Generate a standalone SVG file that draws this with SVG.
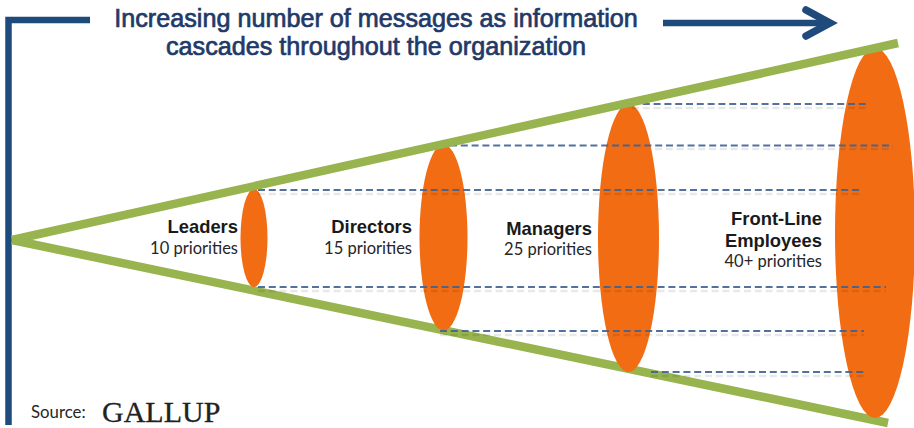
<svg xmlns="http://www.w3.org/2000/svg" width="914" height="428" viewBox="0 0 914 428">
<style>
.blue{fill:none;stroke:#1f4a7c;stroke-width:6.5}
.green{stroke:#98b44f;stroke-width:8.5;fill:none}
.ell{fill:#f26c13}
.dash{stroke:#3f6392;stroke-width:2.200;stroke-dasharray:7 3.8;fill:none;opacity:.9}
.shadow{stroke:#000;stroke-opacity:.09;stroke-width:2.500;stroke-dasharray:7 3.8;fill:none}
.title{font:25.2px "Liberation Sans",Arial,sans-serif;fill:#1f3a68;stroke:#1f3a68;stroke-width:.7;text-anchor:middle}
.head{font:bold 18.4px "Liberation Sans",Arial,sans-serif;fill:#1a1a1a;text-anchor:end}
.sub{font:16.5px Lato,"Open Sans",sans-serif;fill:#262626;text-anchor:end}
</style>
<rect width="914" height="428" fill="#fff"/>
<g id="node-frame"><path class="blue" d="M8.500 425V20H90"/></g>
<g id="node-title">
<text class="title" x="376" y="27">Increasing number of messages as information</text>
<text class="title" x="376" y="55">cascades throughout the organization</text>
</g>
<g id="cone-lower"><path class="green" d="M12 240L888 423"/></g>
<g id="node-leaders"><ellipse class="ell" cx="254" cy="238" rx="13.500" ry="49"/>
<text class="head" x="238" y="233">Leaders</text><text class="sub" x="238" y="254">10 priorities</text></g>
<g id="node-directors"><ellipse class="ell" cx="443.500" cy="237.500" rx="24" ry="93"/>
<text class="head" x="412" y="233">Directors</text><text class="sub" x="412" y="254">15 priorities</text></g>
<g id="node-managers"><ellipse class="ell" cx="628.500" cy="238" rx="30.500" ry="134"/>
<text class="head" x="592" y="235">Managers</text><text class="sub" x="592" y="255">25 priorities</text></g>
<g id="node-frontline"><ellipse class="ell" cx="875" cy="233" rx="40" ry="185"/>
<text class="head" x="822" y="225">Front-Line</text><text class="head" x="822" y="247">Employees</text><text class="sub" x="822" y="267">40+ priorities</text></g>
<g id="connectors">
<path class="blue" d="M663 23H828"/>
<path class="blue" stroke-width="7.500" style="stroke-width:7.500" stroke-linecap="round" d="M806 10L830 23L806 36"/>
<path class="shadow" d="M632 108H868M655 149H893M258 194H860M258 291H886M440 335H864M651 376H866"/>
<path class="dash" d="M632 104H868M450 145.500H893M258 190H860M258 287H886M440 331H864M651 372H866"/>
<path class="green" d="M12 240L898 43"/>
</g>
<g id="node-source">
<text x="31" y="418" style="font:16.8px Lato,'Open Sans',sans-serif;fill:#262626">Source:</text>
<text x="102" y="422" style="font:30px 'Liberation Serif','Times New Roman',serif;fill:#222;stroke:#222;stroke-width:.3">GALLUP</text>
</g>
</svg>
